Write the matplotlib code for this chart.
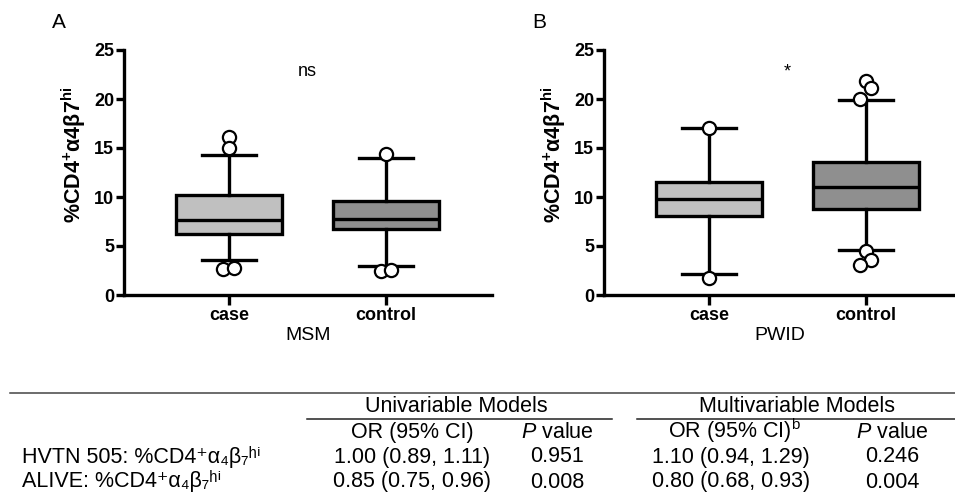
import matplotlib
matplotlib.use('Agg')
import matplotlib.pyplot as plt
from matplotlib.lines import Line2D

plt.rcParams['font.family'] = ['Liberation Sans', 'DejaVu Sans']
plt.rcParams['mathtext.fontset'] = 'custom'
plt.rcParams['mathtext.rm'] = 'Liberation Sans'
plt.rcParams['mathtext.it'] = 'Liberation Sans:italic'
plt.rcParams['mathtext.bf'] = 'Liberation Sans:bold'

# box statistics
groups = ['case', 'control']
panels = ['A', 'B']
cohorts = ['MSM', 'PWID']
signif = ['ns', '*']

q1 = [[6.2, 6.7], [8.05, 8.75]]
med = [[7.65, 7.8], [9.8, 11.0]]
q3 = [[10.2, 9.6], [11.5, 13.55]]
wlo = [[3.6, 2.95], [2.15, 4.6]]
whi = [[14.3, 14.0], [17.0, 19.85]]

# outliers and the little horizontal spread Prism gives them
out_vals = [[[16.15, 15.0, 2.7, 2.8], [14.4, 2.5, 2.55]],
            [[17.05, 1.7], [21.8, 21.1, 20.05, 4.45, 3.6, 3.05]]]
out_dx = [[[0, 0, -0.04, 0.03], [0, -0.035, 0.035]],
          [[0, 0], [0, 0.035, -0.04, 0, 0.035, -0.04]]]

fills = ['#c0c0c0', '#8f8f8f']

# table
row_labels = ['HVTN 505: %CD4⁺α₄β₇ʰⁱ', 'ALIVE: %CD4⁺α₄β₇ʰⁱ']
uni_or = ['1.00 (0.89, 1.11)', '0.85 (0.75, 0.96)']
uni_p = ['0.951', '0.008']
multi_or = ['1.10 (0.94, 1.29)', '0.80 (0.68, 0.93)']
multi_p = ['0.246', '0.004']

W, H = 955, 495
fig = plt.figure(figsize=(W / 100, H / 100), dpi=100)

def fx(px):
    return px / W

def fy(py):
    return 1 - py / H

ax_px = [(124, 492), (604, 955)]
lw = 2.4
for k in range(2):
    l, r = ax_px[k]
    ax = fig.add_axes([fx(l), fy(295), fx(r - l), 245 / H])
    stats = []
    for g in range(2):
        stats.append(dict(q1=q1[k][g], med=med[k][g], q3=q3[k][g],
                          whislo=wlo[k][g], whishi=whi[k][g], fliers=[]))
    bp = ax.bxp(stats, positions=[1, 2], widths=0.68, patch_artist=True,
                showfliers=False,
                boxprops=dict(linewidth=lw, edgecolor='black'),
                medianprops=dict(linewidth=lw, color='black'),
                whiskerprops=dict(linewidth=lw, color='black'),
                capprops=dict(linewidth=lw, color='black'),
                capwidths=0.35)
    for patch, c in zip(bp['boxes'], fills):
        patch.set_facecolor(c)
    for g in range(2):
        xs = [g + 1 + d for d in out_dx[k][g]]
        ax.plot(xs, out_vals[k][g], 'o', mfc='white', mec='black',
                ms=9.5, mew=1.6, zorder=5, clip_on=False)

    ax.set_ylim(0, 25)
    ax.set_yticks([0, 5, 10, 15, 20, 25])
    ax.set_xlim(1 - 105 / 157, 1 - 105 / 157 + (r - l) / 157)
    ax.set_xticks([1, 2])
    ax.set_xticklabels(groups, fontsize=13, fontweight='bold')
    for t in ax.get_yticklabels():
        t.set_fontsize(13)
        t.set_fontweight('bold')
    ax.spines['top'].set_visible(False)
    ax.spines['right'].set_visible(False)
    ax.spines['left'].set_linewidth(lw)
    ax.spines['bottom'].set_linewidth(lw)
    ax.tick_params(axis='y', length=6, width=lw, pad=1)
    ax.tick_params(axis='x', length=7, width=lw, pad=2)
    ax.set_ylabel(r'%CD4$^{\mathbf{+}}$α4β7$^{\mathbf{hi}}$',
                  fontsize=15.5, fontweight='bold')
    ax.yaxis.set_label_coords(-36 / (r - l), (295 - 155) / 245)
    ax.set_xlabel(cohorts[k], fontsize=14, labelpad=2)
    ax.text(1.5, 22.8, signif[k], ha='center', va='center', fontsize=13)
    fig.text(fx(l - 65), fy(22), panels[k], ha='center', va='center',
             fontsize=15)

# table lines
fig.add_artist(Line2D([fx(10), 1], [fy(392.5), fy(392.5)],
                      color='#444444', lw=1.1))
fig.add_artist(Line2D([fx(307), fx(612)], [fy(419), fy(419)],
                      color='#222222', lw=1.1))
fig.add_artist(Line2D([fx(637), 1], [fy(419), fy(419)],
                      color='#222222', lw=1.1))

fs = 15.5
head_y = 412
col_y = 438
row_y = [462.5, 487.5]
fig.text(fx(456), fy(head_y), 'Univariable Models', ha='center',
         va='baseline', fontsize=fs)
fig.text(fx(797), fy(head_y), 'Multivariable Models', ha='center',
         va='baseline', fontsize=fs)
fig.text(fx(412), fy(col_y), 'OR (95% CI)', ha='center', va='baseline',
         fontsize=fs)
fig.text(fx(557), fy(col_y), r'$P$ value', ha='center', va='baseline',
         fontsize=fs)
fig.text(fx(735), fy(col_y), r'OR (95% CI)$^{\mathrm{b}}$', ha='center',
         va='baseline', fontsize=fs)
fig.text(fx(892), fy(col_y), r'$P$ value', ha='center', va='baseline',
         fontsize=fs)

for i in range(2):
    fig.text(fx(22), fy(row_y[i]), row_labels[i], ha='left', va='baseline',
             fontsize=fs)
    fig.text(fx(412), fy(row_y[i]), uni_or[i], ha='center', va='baseline',
             fontsize=fs)
    fig.text(fx(557), fy(row_y[i]), uni_p[i], ha='center', va='baseline',
             fontsize=fs)
    fig.text(fx(731), fy(row_y[i]), multi_or[i], ha='center', va='baseline',
             fontsize=fs)
    fig.text(fx(892), fy(row_y[i]), multi_p[i], ha='center', va='baseline',
             fontsize=fs)

fig.savefig('out.png', dpi=100)
